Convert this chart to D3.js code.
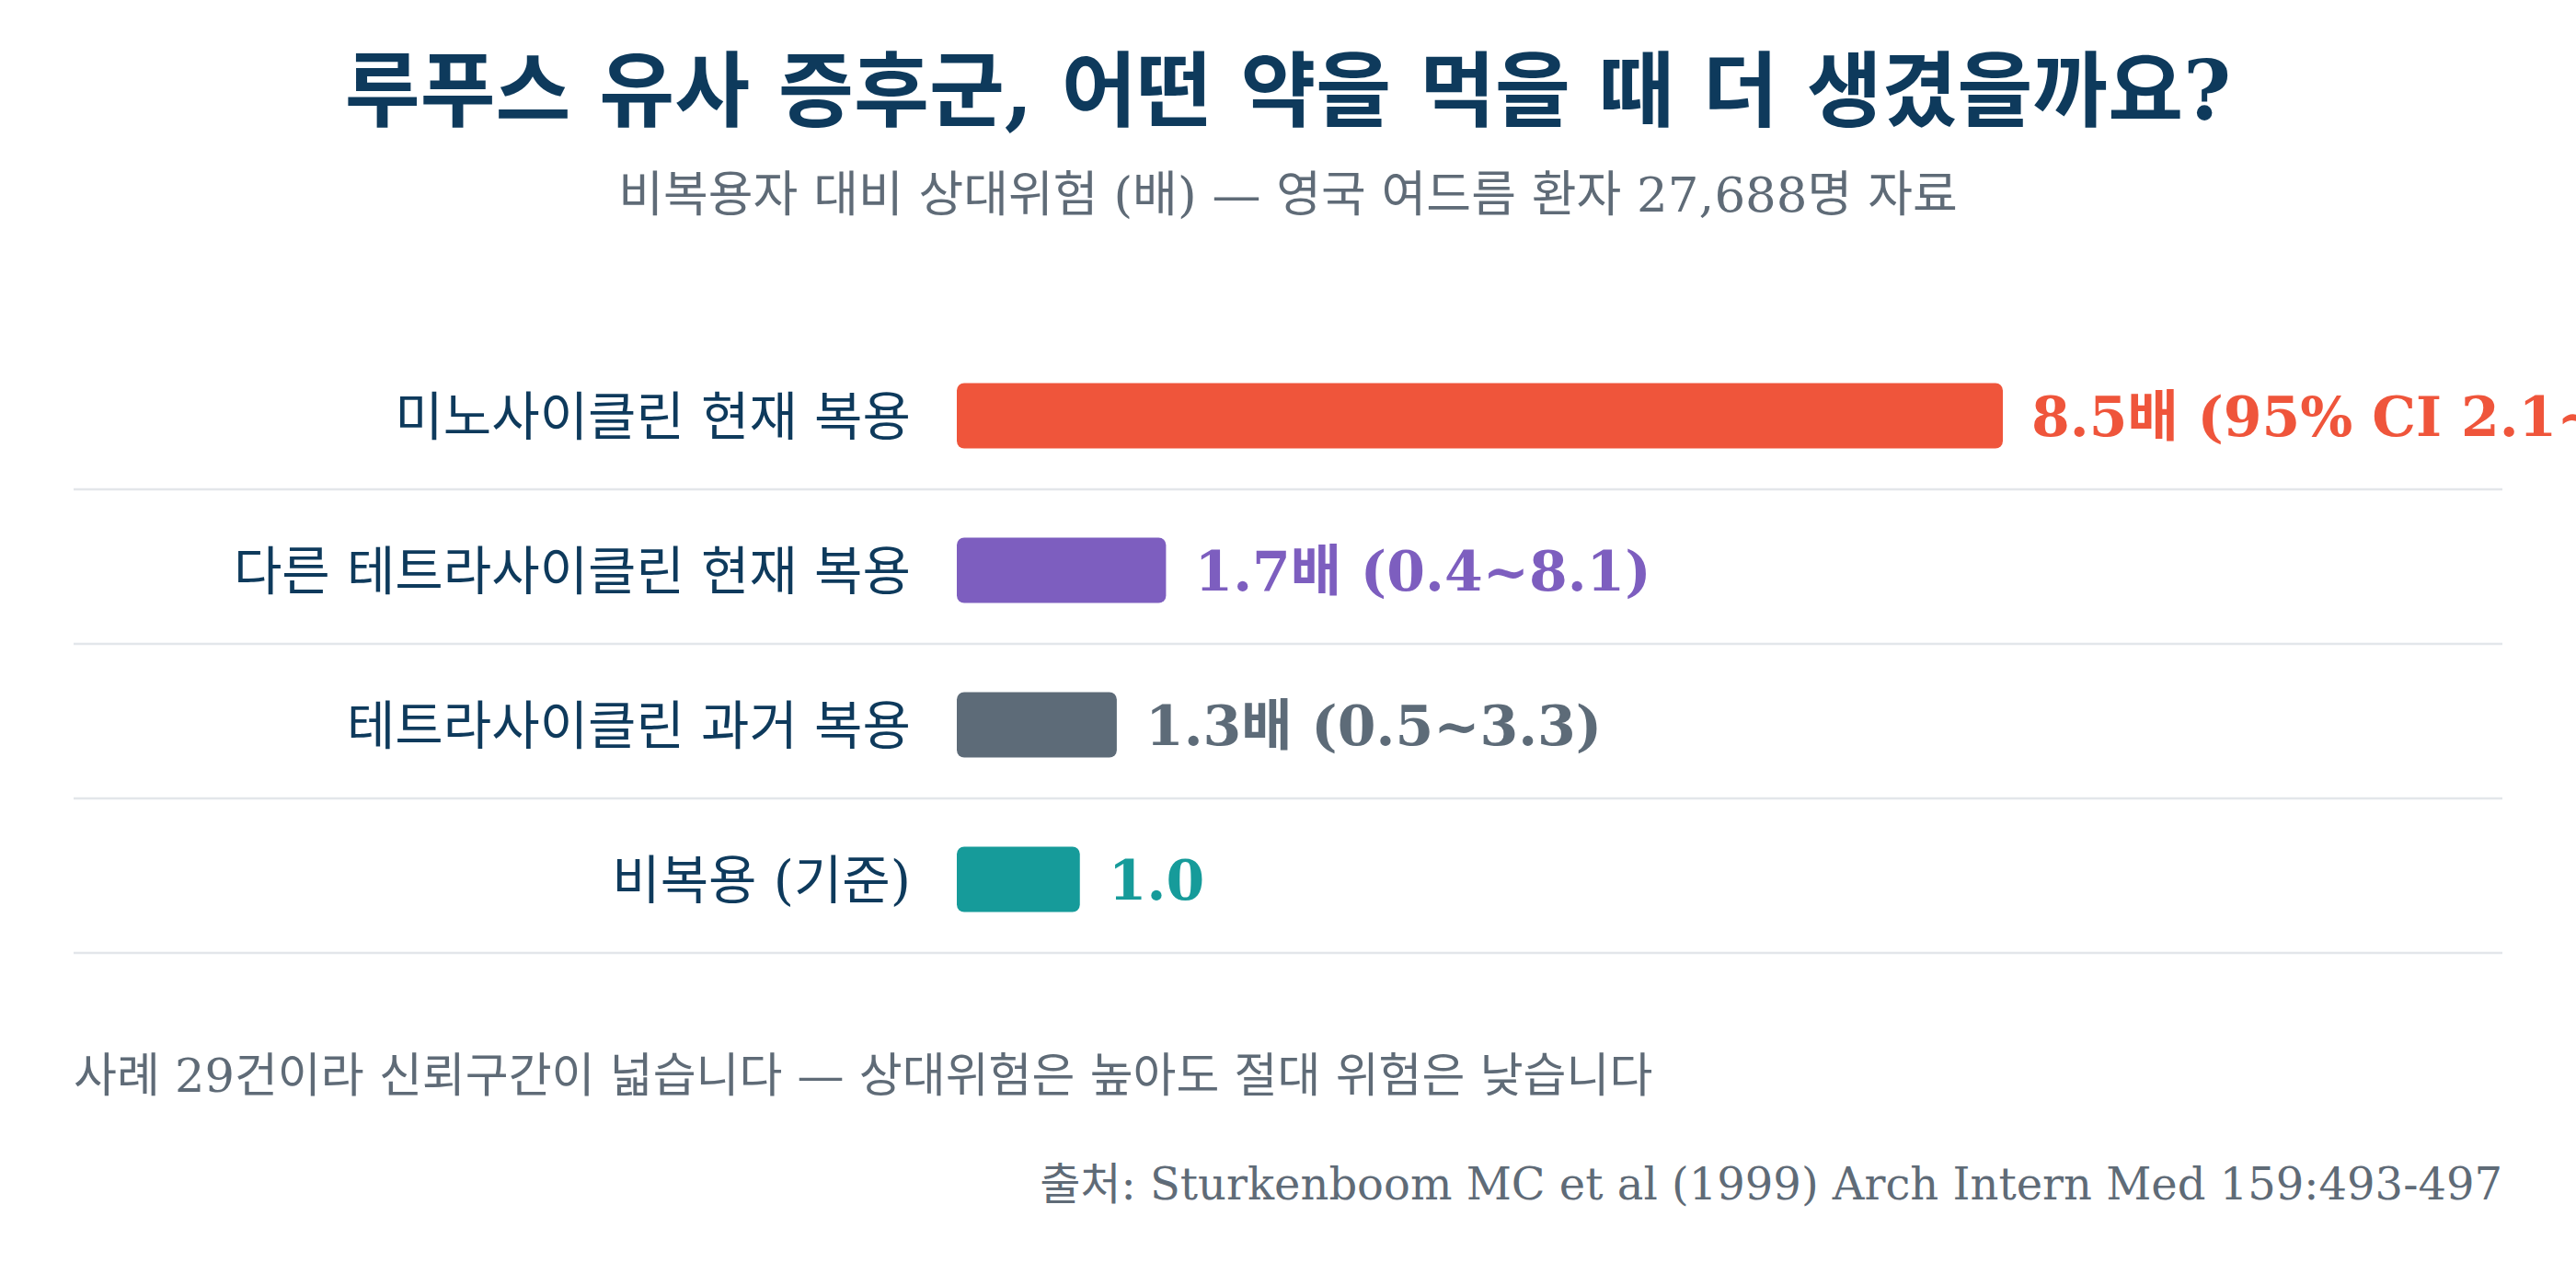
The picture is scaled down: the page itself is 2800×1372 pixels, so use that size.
<!DOCTYPE html>
<html>
<head>
<meta charset="utf-8">
<script src="https://cdn.jsdelivr.net/npm/d3@7"></script>
<style>
  html, body { margin: 0; padding: 0; background: #fff; overflow: hidden; }
  text { font-family: "DejaVu Serif", "Noto Sans CJK KR", serif; }
</style>
</head>
<body>
<div id="chart"></div>
<script>
// data
var categories = ["미노사이클린 현재 복용", "다른 테트라사이클린 현재 복용", "테트라사이클린 과거 복용", "비복용 (기준)"];
var riskValues = [8.5, 1.7, 1.3, 1.0];
var valueLabels = ["8.5배 (95% CI 2.1~35.0)", "1.7배 (0.4~8.1)", "1.3배 (0.5~3.3)", "1.0"];
var barColors = ["#ef553b", "#7d5ebf", "#5d6b78", "#169b9a"];

var titleText = "루푸스 유사 증후군, 어떤 약을 먹을 때 더 생겼을까요?";
var subtitleText = "비복용자 대비 상대위험 (배) — 영국 여드름 환자 27,688명 자료";
var noteText = "사례 29건이라 신뢰구간이 넓습니다 — 상대위험은 높아도 절대 위험은 낮습니다";
var sourceText = "출처: Sturkenboom MC et al (1999) Arch Intern Med 159:493-497";

var width = 2800, height = 1372;
var left = 80, right = 2720;

var svg = d3.select("#chart").append("svg")
    .attr("width", width)
    .attr("height", height);

svg.append("text")
    .attr("x", width / 2)
    .attr("y", 130)
    .attr("text-anchor", "middle")
    .attr("font-size", 89)
    .attr("font-weight", "bold")
    .attr("fill", "#0e3a5c")
    .text(titleText);

svg.append("text")
    .attr("x", width / 2)
    .attr("y", 230)
    .attr("text-anchor", "middle")
    .attr("font-size", 53)
    .attr("fill", "#5f6b77")
    .text(subtitleText);

var xScale = d3.scaleLinear()
    .domain([0, 8.5])
    .range([1040, 2177]);

var yScale = d3.scaleBand()
    .domain(categories)
    .range([368, 1040])
    .padding(0);

var barH = 71;
var rows = svg.append("g");

// row separators
rows.selectAll("line.sep")
    .data(categories)
    .enter()
    .append("line")
    .attr("class", "sep")
    .attr("x1", left)
    .attr("x2", right)
    .attr("y1", d => yScale(d) + yScale.bandwidth() - 4)
    .attr("y2", d => yScale(d) + yScale.bandwidth() - 4)
    .attr("stroke", "#e3e6ea")
    .attr("stroke-width", 2.5);

rows.selectAll("rect.bar")
    .data(riskValues)
    .enter()
    .append("rect")
    .attr("class", "bar")
    .attr("x", xScale(0))
    .attr("y", (d, i) => yScale(categories[i]) + yScale.bandwidth() / 2 - barH / 2)
    .attr("width", d => xScale(d) - xScale(0))
    .attr("height", barH)
    .attr("rx", 8)
    .attr("fill", (d, i) => barColors[i]);

rows.selectAll("text.cat")
    .data(categories)
    .enter()
    .append("text")
    .attr("class", "cat")
    .attr("x", 990)
    .attr("y", d => yScale(d) + yScale.bandwidth() / 2)
    .attr("dy", "0.36em")
    .attr("text-anchor", "end")
    .attr("font-size", 57)
    .attr("fill", "#0e3a5c")
    .text(d => d);

rows.selectAll("text.val")
    .data(riskValues)
    .enter()
    .append("text")
    .attr("class", "val")
    .attr("x", d => xScale(d) + 31)
    .attr("y", (d, i) => yScale(categories[i]) + yScale.bandwidth() / 2)
    .attr("dy", "0.37em")
    .attr("font-size", 60)
    .attr("font-weight", "bold")
    .attr("fill", (d, i) => barColors[i])
    .text((d, i) => valueLabels[i]);

svg.append("text")
    .attr("x", left)
    .attr("y", 1187)
    .attr("font-size", 51)
    .attr("fill", "#5f6b77")
    .text(noteText);

svg.append("text")
    .attr("x", right)
    .attr("y", 1304)
    .attr("text-anchor", "end")
    .attr("font-size", 48)
    .attr("fill", "#5f6b77")
    .text(sourceText);
</script>
</body>
</html>
